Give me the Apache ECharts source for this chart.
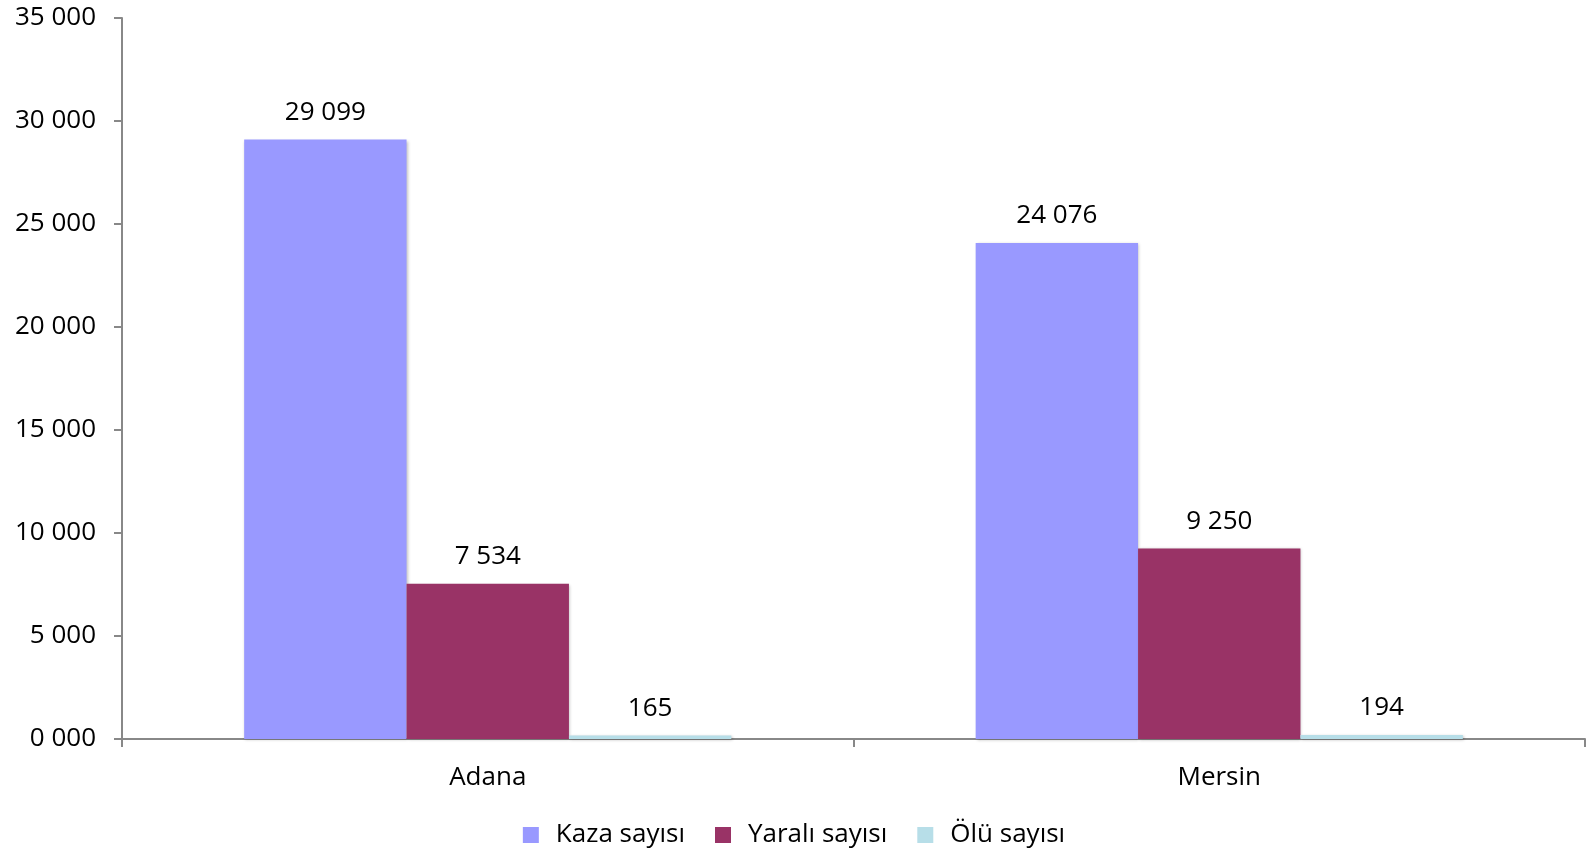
<!DOCTYPE html>
<html>
<head>
<meta charset="utf-8">
<script src="https://cdn.jsdelivr.net/npm/echarts@6/dist/echarts.min.js"></script>
<style>
  html, body { margin: 0; padding: 0; background: #fff; }
  #main { width: 1588px; height: 855px; }
</style>
</head>
<body>
<div id="main"></div>
<script>
// veriler
const categories = ['Adana', 'Mersin']
const seriesNames = ['Kaza sayısı', 'Yaralı sayısı', 'Ölü sayısı']
const kaza = [29099, 24076]
const yarali = [7534, 9250]
const olu = [165, 194]
const colors = ['#9999FF', '#993366', '#B7DEE8']

const FONT = '"Open Sans", "Noto Sans", sans-serif'
const FS = 26

// binlik ayraç olarak boşluk
function fmt(v) {
  return String(v).replace(/\B(?=(\d{3})+(?!\d))/g, ' ')
}
function axisFmt(v) {
  if (v === 0) return '0 000'
  return fmt(v)
}

const myChart = echarts.init(document.getElementById('main'))

const values = [kaza, yarali, olu]
myChart.setOption({
  animation: false,
  textStyle: { fontFamily: FONT },
  grid: { left: 122, right: 3, top: 18, bottom: 116 },
  legend: {
    bottom: 2,
    left: 'center',
    itemWidth: 16,
    itemHeight: 16,
    itemGap: 30,
    icon: 'rect',
    textStyle: { fontSize: FS, color: '#000', fontFamily: FONT, padding: [0, 0, 0, 12] },
    data: seriesNames
  },
  xAxis: {
    type: 'category',
    data: categories,
    axisLine: { lineStyle: { color: '#888', width: 2 } },
    axisTick: { show: true, length: 8, lineStyle: { color: '#888', width: 2 } },
    axisLabel: { fontSize: FS, color: '#000', margin: 26, fontFamily: FONT }
  },
  yAxis: {
    type: 'value',
    min: 0,
    max: 35000,
    interval: 5000,
    splitLine: { show: false },
    axisLine: { show: true, lineStyle: { color: '#888', width: 2 } },
    axisTick: { show: true, length: 8, lineStyle: { color: '#888', width: 2 } },
    axisLabel: { fontSize: FS, color: '#000', margin: 26, formatter: axisFmt, fontFamily: FONT }
  },
  series: seriesNames.map((name, i) => ({
    name: name,
    type: 'bar',
    barGap: '0%',
    barCategoryGap: '33.4%',
    data: values[i],
    itemStyle: {
      color: colors[i],
      shadowColor: 'rgba(0,0,0,0.25)',
      shadowBlur: 3,
      shadowOffsetX: 1,
      shadowOffsetY: 1
    },
    label: {
      show: true,
      position: 'top',
      distance: 14,
      fontSize: FS,
      color: '#000',
      fontFamily: FONT,
      formatter: (p) => fmt(p.value)
    }
  }))
})
</script>
</body>
</html>
